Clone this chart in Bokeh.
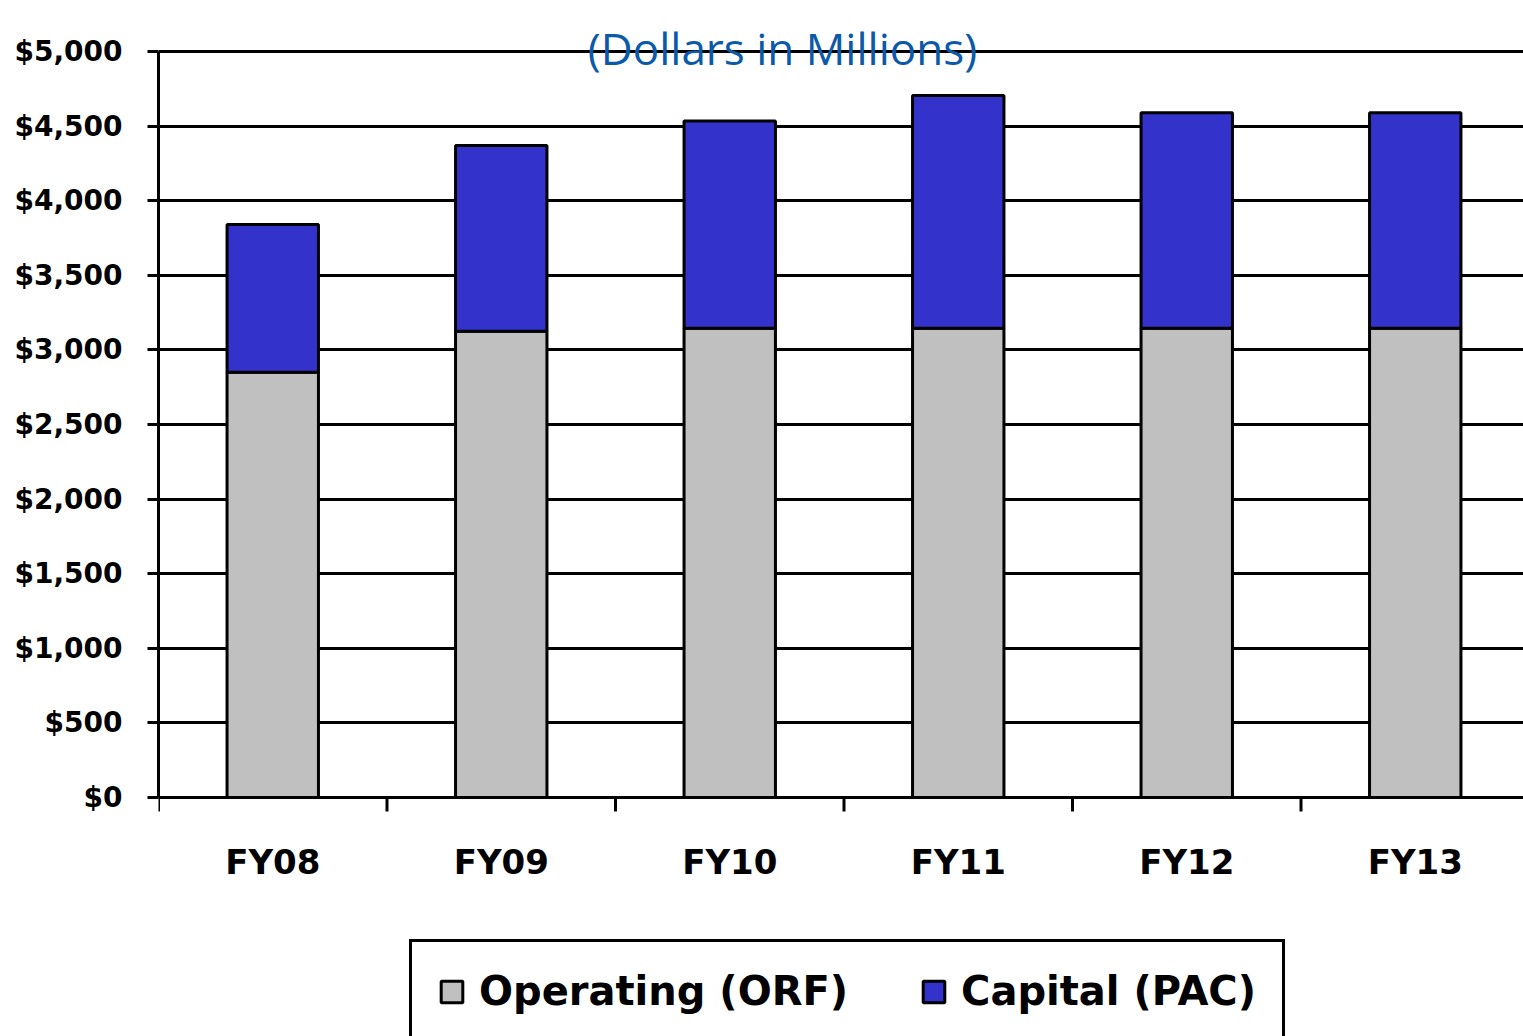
from bokeh.plotting import figure
from bokeh.models import (Range1d, FixedTicker, NumeralTickFormatter, Legend, LegendItem,
                          ColumnDataSource, Label)
from bokeh.core.properties import value
from bokeh.embed import file_html
from bokeh.resources import INLINE

# ---- data ----
years = ["FY08", "FY09", "FY10", "FY11", "FY12", "FY13"]
operating = [2850, 3125, 3145, 3145, 3145, 3145]   # Operating (ORF)
capital = [990, 1245, 1390, 1560, 1445, 1445]      # Capital (PAC)
y_ticks = [0, 500, 1000, 1500, 2000, 2500, 3000, 3500, 4000, 4500, 5000]
title_text = "(Dollars in Millions)"
series_labels = ["Operating (ORF)", "Capital (PAC)"]

GRAY = "#C0C0C0"
BLUE = "#3333CC"

x_pos = [i + 0.5 for i in range(len(years))]
bounds = list(range(len(years) + 1))
source = ColumnDataSource(dict(x=x_pos, operating=operating, capital=capital))

W, H = 1523, 1036
LEFT = 158
ZERO_Y, TOP_Y = 797, 51           # pixel rows of $0 and $5,000
frame_w = W - LEFT
cat_px = 228.5
px_per_unit = (ZERO_Y - TOP_Y) / 5000
y_start = -(H - ZERO_Y) / px_per_unit
y_end = 5000 + TOP_Y / px_per_unit

p = figure(width=W, height=H, output_backend="svg", toolbar_location=None,
           x_range=Range1d(0, frame_w / cat_px),
           y_range=Range1d(y_start, y_end),
           x_axis_location=None,
           min_border_left=LEFT, min_border_right=0, min_border_top=0,
           min_border_bottom=0)
p.outline_line_color = None
p.background_fill_color = "white"
p.border_fill_color = "white"

rs = p.vbar_stack(["operating", "capital"], x="x", width=0.4, source=source,
                  fill_color=[GRAY, BLUE], line_color="black", line_width=3)

# y axis
yax = p.yaxis[0]
yax.ticker = FixedTicker(ticks=y_ticks, minor_ticks=[])
yax.formatter = NumeralTickFormatter(format="$0,0")
yax.bounds = (0, 5000)
yax.axis_line_color = "black"
yax.axis_line_width = 3
yax.major_tick_line_width = 3
yax.major_tick_line_color = "black"
yax.major_tick_out = 11
yax.major_tick_in = 0
yax.minor_tick_line_color = None
yax.major_label_standoff = 25
yax.major_label_text_font = "DejaVu Sans"
yax.major_label_text_font_style = "bold"
yax.major_label_text_font_size = "28px"
yax.major_label_text_color = "black"

# grid (the $0 grid line doubles as the category axis line)
p.xgrid.grid_line_color = None
p.ygrid.ticker = FixedTicker(ticks=y_ticks)
p.ygrid.grid_line_color = "black"
p.ygrid.grid_line_width = 3

# category axis: boundary ticks and centred labels
p.segment(x0=bounds, y0=[0] * len(bounds), x1=bounds,
          y1=[-14 / px_per_unit] * len(bounds), line_color="black", line_width=3)
p.text(x=x_pos, y=[-64 / px_per_unit] * len(x_pos), text=years,
       text_align="center", text_baseline="middle",
       text_font=value("DejaVu Sans"), text_font_style="bold",
       text_font_size="34px", text_color="black")

# title
p.add_layout(Label(x=(782 - LEFT) / cat_px, y=5000 + 4 / px_per_unit, text=title_text,
                   text_align="center", text_baseline="alphabetic",
                   text_font="Open Sans", text_font_size="44px", text_color="#0B5AAA"))

legend = Legend(items=[LegendItem(label=series_labels[0], renderers=[rs[0]]),
                       LegendItem(label=series_labels[1], renderers=[rs[1]])],
                orientation="horizontal", location=(251, -7), margin=0, padding=26,
                spacing=72, label_standoff=14, glyph_width=27, glyph_height=27,
                border_line_color="black", border_line_width=3, border_line_alpha=1,
                background_fill_color="white", background_fill_alpha=1,
                label_text_font="DejaVu Sans", label_text_font_style="bold",
                label_text_font_size="40px", label_text_color="black")
p.add_layout(legend, "center")

open("out.html", "w").write(file_html(p, INLINE))
